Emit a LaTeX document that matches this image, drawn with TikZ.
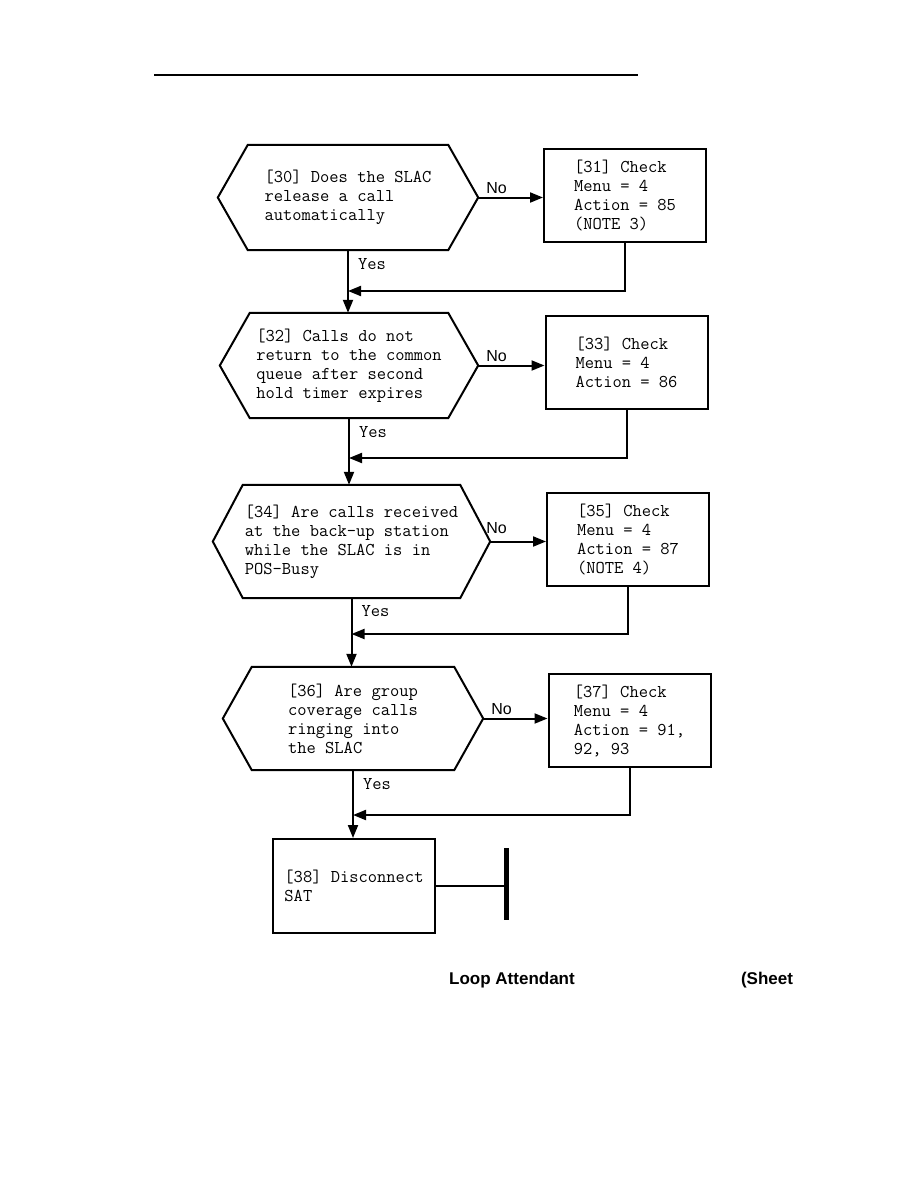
\documentclass[tikz,border=0pt]{standalone}
\usepackage{fontspec}
\newfontfamily\helv{Liberation Sans}
\usetikzlibrary{arrows.meta, positioning}

\newcommand\boxfont{\ttfamily\fontsize{18}{19}\selectfont}
% hexagon round a decision node, #2 = slant of the points
\newcommand\hexoutline[2]{%
  \draw[outline] (#1.west) -- ([xshift=#2pt]#1.north west) -- ([xshift=-#2pt]#1.north east)
    -- (#1.east) -- ([xshift=-#2pt]#1.south east) -- ([xshift=#2pt]#1.south west) -- cycle;}

\begin{document}
\begin{tikzpicture}[x=1pt, y=-1pt,
    >={Triangle[length=13pt, width=10pt]},
    % outline of the decision hexagons
    outline/.style={line width=2pt},
    % decision text (outline drawn by \hexoutline)
    hexbox/.style={
        rectangle, inner sep=0pt, align=left, font=\boxfont
    },
    % action boxes
    checkbox/.style={
        rectangle, draw, line width=2pt, minimum width=162pt,
        minimum height=93pt, align=left, font=\boxfont
    },
    flow/.style={->, line width=2pt},
    nolbl/.style={font=\helv\fontsize{16}{16}\selectfont, inner sep=0pt},
    yeslbl/.style={font=\boxfont, inner sep=0pt},
    title/.style={font=\helv\bfseries\fontsize{17}{17}\selectfont, inner sep=0pt},
]

% Page
\fill[white] (0,0) rectangle (918,1188);
\useasboundingbox (0,0) rectangle (918,1188);

% Rule at the head of the page
\draw[line width=2.5pt] (154,75) -- (638,75);

% ===== Decisions =====
\node[hexbox, minimum width=260pt, minimum height=105pt] (h30) at (348,197.5)
    {[30] Does the SLAC\\release a call\\automatically};
\hexoutline{h30}{30}

\node[hexbox, minimum width=258pt, minimum height=105pt] (h32) at (349,365.5)
    {[32] Calls do not\\return to the common\\queue after second\\hold timer expires};
\hexoutline{h32}{30}

\node[hexbox, minimum width=277pt, minimum height=113pt] (h34) at (351.5,541.5)
    {[34] Are calls received\\at the back-up station\\while the SLAC is in\\POS-Busy};
\hexoutline{h34}{30}

\node[hexbox, minimum width=260pt, minimum height=103pt] (h36) at (353,718.5)
    {[36] Are group\\coverage calls\\ringing into\\the SLAC};
\hexoutline{h36}{29}

% ===== Checks =====
\node[checkbox] (b31) at (625,195.5) {[31] Check\\Menu = 4\\Action = 85\\(NOTE 3)};
\node[checkbox] (b33) at (626.5,362) {[33] Check\\Menu = 4\\Action = 86};
\node[checkbox] (b35) at (628,539.5) {[35] Check\\Menu = 4\\Action = 87\\(NOTE 4)};
\node[checkbox] (b37) at (629.5,720.5) {[37] Check\\Menu = 4\\Action = 91,\\92, 93};

\node[checkbox, minimum height=94pt] (b38) at (354,886) {[38] Disconnect\\SAT};

% End bar
\node[rectangle, fill=black, inner sep=0pt, minimum width=5pt, minimum height=72pt]
    (bar) at (506,884) {};

% ===== No branches =====
\draw[flow] (h30.east) -- (h30.east -| b31.west);
\draw[flow] (h32.east) -- (h32.east -| b33.west);
\draw[flow] (h34.east) -- (h34.east -| b35.west);
\draw[flow] (h36.east) -- (h36.east -| b37.west);

\node[nolbl, above right=4pt and 8pt of h30.east] (n30) {No};
\node[nolbl, above right=4pt and 8pt of h32.east] (n32) {No};
\node[nolbl, above right=8pt and -4pt of h34.east] (n34) {No};
\node[nolbl, above right=4pt and 8pt of h36.east] (n36) {No};

% ===== Yes path =====
\coordinate (j30) at (348,291);
\coordinate (j32) at (349,458);
\coordinate (j34) at (351.5,634);
\coordinate (j36) at (353,815);

\draw[flow] (h30.south) -- (h30.south |- h32.north);
\draw[flow] (h32.south) -- (h32.south |- h34.north);
\draw[flow] (h34.south) -- (h34.south |- h36.north);
\draw[flow] (h36.south) -- (h36.south |- b38.north);

\node[yeslbl, below right=8pt and 10pt of h30.south] (y30) {Yes};
\node[yeslbl, below right=8pt and 10pt of h32.south] (y32) {Yes};
\node[yeslbl, below right=7pt and 10pt of h34.south] (y34) {Yes};
\node[yeslbl, below right=8pt and 10pt of h36.south] (y36) {Yes};

% Returns from the checks
\draw[flow] (b31.south) |- (j30);
\draw[flow] (b33.south) |- (j32);
\draw[flow] (b35.south) |- (j34);
\draw[flow] (b37.south) |- (j36);

% Disconnect to end bar
\draw[line width=2pt] (b38.east) -- (b38.east -| bar.center);

% Page caption
\node[title] (cap) at (512,980) {Loop Attendant};
\node[title] (sheet) at (767,980) {(Sheet};

\end{tikzpicture}
\end{document}
